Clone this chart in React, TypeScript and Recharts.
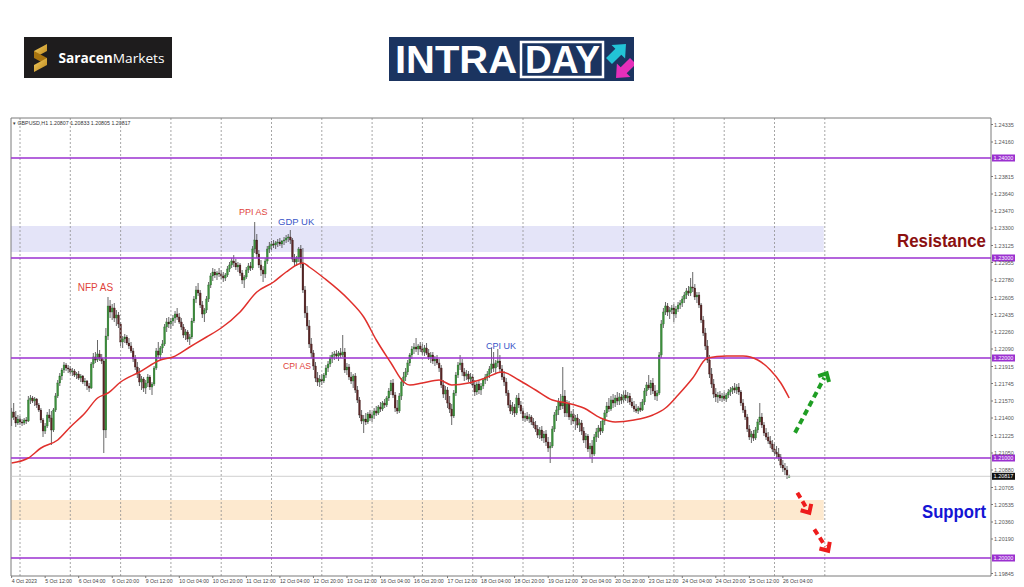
import React from 'react';
import { ComposedChart, Bar, Line, XAxis, YAxis, ReferenceLine, ReferenceArea } from 'recharts';

const PRICE_BASE = 1.2;
const PIP = 0.0001;

// H1 bars, [open, high, low, close] in pips above 1.20000
const oct04 = [[140,150,132,146],[146,155,138,141],[141,147,131,135],[135,143,133,139]];
const oct05 = [[139,142,133,136],[136,139,132,135],[135,140,133,138],[138,141,134,137],[137,162,136,158],[158,163,154,160],[160,162,155,157],[157,161,152,159],[159,160,150,153],[153,155,146,148],[148,150,135,138],[138,140,121,127],[127,135,124,132],[132,146,130,143],[143,149,136,140],[140,147,113,128],[128,150,126,148],[148,165,146,162],[162,178,160,175],[175,185,172,182],[182,190,178,188],[188,196,185,193],[193,195,187,190],[190,193,185,189]];
const oct06 = [[189,192,184,186],[186,190,182,187],[187,189,181,183],[183,186,179,184],[184,187,178,180],[180,184,176,182],[182,183,174,176],[176,180,172,177],[177,178,168,172],[172,175,166,170],[170,196,169,194],[194,205,190,201],[201,206,195,198],[198,218,196,204],[204,208,197,200],[200,204,194,197],[197,199,105,128],[128,230,120,222],[222,261,218,252],[252,258,240,246],[246,254,238,250],[250,255,236,240],[240,248,232,243],[243,246,230,234]];
const oct09 = [[234,236,212,216],[216,222,210,219],[219,224,215,221],[221,223,213,215],[215,220,209,212],[212,216,205,207],[207,210,196,199],[199,203,188,191],[191,196,180,184],[184,190,172,176],[176,182,168,179],[179,181,166,170],[170,178,164,175],[175,184,171,181],[181,183,168,171],[171,176,163,174],[174,192,172,190],[190,210,188,207],[207,216,200,203],[203,212,198,210],[210,218,205,214],[214,234,212,231],[231,240,226,236],[236,241,230,234]];
const oct10 = [[234,240,229,237],[237,243,232,240],[240,247,235,244],[244,250,238,241],[241,245,234,236],[236,240,228,231],[231,234,220,223],[223,229,218,226],[226,228,216,219],[219,224,213,221],[221,240,219,237],[237,262,235,259],[259,272,255,268],[268,275,262,265],[265,268,250,253],[253,257,240,244],[244,250,236,248],[248,262,245,259],[259,276,256,273],[273,285,270,282],[282,290,277,286],[286,289,280,283],[283,287,278,285],[285,290,281,284]];
const oct11 = [[284,288,279,282],[282,286,276,280],[280,285,277,283],[283,292,281,289],[289,296,286,293],[293,300,290,297],[297,303,291,295],[295,299,288,291],[291,296,286,293],[293,295,282,285],[285,288,274,278],[278,283,270,281],[281,291,279,288],[288,295,285,292],[292,296,287,290],[290,312,288,309],[309,336,305,318],[318,324,300,304],[304,308,290,293],[293,298,282,288],[288,292,276,284],[284,300,280,297],[297,312,294,309],[309,316,305,312]];
const oct12 = [[312,317,308,314],[314,318,310,313],[313,317,309,315],[315,319,311,316],[316,320,312,314],[314,318,310,317],[317,321,313,318],[318,323,315,320],[320,324,316,321],[321,328,314,318],[318,320,296,299],[299,304,292,296],[296,302,292,300],[300,311,296,309],[309,313,290,294],[294,310,265,268],[268,272,240,245],[245,252,228,232],[232,238,210,214],[214,220,200,205],[205,208,188,192],[192,196,176,180],[180,186,172,176],[176,183,171,179]];
const oct13 = [[179,184,173,177],[177,185,175,183],[183,193,180,190],[190,197,186,194],[194,203,191,200],[200,206,195,203],[203,207,198,204],[204,208,199,202],[202,207,197,205],[205,210,200,203],[203,223,201,206],[206,210,185,188],[188,195,183,191],[191,194,178,181],[181,186,174,177],[177,184,170,182],[182,185,165,168],[168,172,155,158],[158,161,140,143],[143,148,134,137],[137,143,125,139],[139,145,133,136],[136,146,134,144],[144,148,137,140]];
const oct16 = [[140,146,136,143],[143,150,139,147],[147,152,142,145],[145,153,143,151],[151,156,146,149],[149,157,147,155],[155,159,150,153],[153,162,151,160],[160,170,157,167],[167,178,163,175],[175,179,160,163],[163,166,146,150],[150,158,144,147],[147,165,145,162],[162,180,158,176],[176,186,172,181],[181,190,177,186],[186,198,183,195],[195,205,192,203],[203,212,199,209],[209,215,204,211],[211,220,206,209],[209,214,203,212],[212,216,206,209]];
const oct17 = [[209,214,203,206],[206,213,202,210],[210,215,203,205],[205,209,198,201],[201,206,195,203],[203,206,194,197],[197,202,192,199],[199,203,193,195],[195,199,186,190],[190,193,170,173],[173,178,160,164],[164,172,158,168],[168,171,150,155],[155,162,145,149],[149,154,133,142],[142,168,140,165],[165,186,162,183],[183,196,180,193],[193,203,188,195],[195,199,182,186],[186,190,177,182],[182,188,178,184],[184,187,176,179],[179,185,174,181]];
const oct18 = [[181,184,170,173],[173,178,162,166],[166,176,163,174],[174,177,164,168],[168,175,163,172],[172,180,169,178],[178,184,174,181],[181,187,177,184],[184,192,180,189],[189,210,185,194],[194,206,186,190],[190,198,184,195],[195,209,191,197],[197,203,186,189],[189,193,178,181],[181,187,172,176],[176,180,162,165],[165,168,150,153],[153,158,144,147],[147,156,143,151],[151,154,141,145],[145,163,143,160],[160,165,150,153],[153,157,144,147]];
const oct19 = [[147,150,137,140],[140,145,136,142],[142,146,137,139],[139,144,135,141],[141,143,133,136],[136,140,130,133],[133,137,126,129],[129,133,120,123],[123,131,119,128],[128,132,117,120],[120,127,115,124],[124,128,112,116],[116,121,106,110],[110,116,95,112],[112,132,110,129],[129,146,126,143],[143,152,137,148],[148,160,143,156],[156,164,148,152],[152,191,149,162],[162,168,141,145],[145,158,141,154],[154,157,138,141],[141,147,133,144]];
const oct20 = [[144,149,134,137],[137,143,128,140],[140,144,130,133],[133,139,126,135],[135,138,123,127],[127,131,115,118],[118,125,110,122],[122,124,106,109],[109,115,100,112],[112,118,95,104],[104,124,102,121],[121,130,116,126],[126,133,120,130],[130,137,123,127],[127,140,125,137],[137,148,133,145],[145,156,141,152],[152,160,146,149],[149,162,147,158],[158,164,150,155],[155,163,151,160],[160,166,153,157],[157,165,153,161],[161,164,154,158]];
const oct23 = [[158,167,155,163],[163,168,157,160],[160,166,155,162],[162,165,153,156],[156,160,150,152],[152,157,146,149],[149,154,145,147],[147,152,144,150],[150,156,146,148],[148,159,147,156],[156,170,153,167],[167,176,162,173],[173,183,168,170],[170,178,163,175],[175,180,164,167],[167,173,158,162],[162,168,157,165],[165,206,163,203],[203,238,200,234],[234,250,230,246],[246,256,243,252],[252,255,242,246],[246,251,239,248],[248,253,244,250]];
const oct24 = [[250,254,236,244],[244,252,240,249],[249,256,246,253],[253,258,249,255],[255,262,251,259],[259,266,255,263],[263,270,259,267],[267,272,262,265],[265,280,262,271],[271,286,266,270],[270,274,258,261],[261,266,255,263],[263,266,250,253],[253,255,235,238],[238,242,222,225],[225,230,208,212],[212,218,195,198],[198,203,180,184],[184,190,170,174],[174,179,160,164],[164,170,156,161],[161,166,155,163],[163,167,157,160],[160,165,156,162]];
const oct25 = [[162,166,157,159],[159,165,156,163],[163,169,160,166],[166,171,162,168],[168,172,164,170],[170,175,165,168],[168,174,164,171],[171,175,163,166],[166,168,152,155],[155,159,145,148],[148,152,138,141],[141,144,126,129],[129,133,118,121],[121,127,115,124],[124,128,117,120],[120,131,118,128],[128,139,125,136],[136,155,133,141],[141,145,130,133],[133,136,122,125],[125,130,118,121],[121,126,114,117],[117,122,110,114],[114,118,106,109]];
const oct26 = [[109,114,102,106],[106,112,100,104],[104,110,97,101],[101,104,90,93],[93,98,86,90],[90,95,83,88],[88,92,79,83],[80.7,83.3,80.5,81.7]];

const tradingDays = [oct04, oct05, oct06, oct09, oct10, oct11, oct12, oct13, oct16, oct17, oct18, oct19, oct20, oct23, oct24, oct25, oct26];

// moving average readings: [bar, pips above 1.20000]
const maReadings = [[0,95],[8,100],[14,110],[22,118],[28,131],[35,145],[41,160],[46,165],[52,176],[61,186],[71,198],[77,201],[85,211],[93,221],[100,230],[109,246],[117,266],[125,276],[131,286],[137,294],[139,295],[142,291],[149,280],[161,258],[168,241],[174,218],[181,195],[187,176],[190,173],[196,175],[204,178],[210,173],[218,175],[226,180],[234,186],[242,178],[250,168],[258,158],[265,155],[273,150],[281,140],[288,136],[297,138],[306,143],[312,150],[318,163],[325,180],[332,200],[341,202],[349,202],[356,198],[362,188],[367,175],[371,160]];

const timeLabels = ['4 Oct 2023','5 Oct 12:00','6 Oct 04:00','6 Oct 20:00','9 Oct 12:00','10 Oct 04:00','10 Oct 20:00','11 Oct 12:00','12 Oct 04:00','12 Oct 20:00','13 Oct 12:00','16 Oct 04:00','16 Oct 20:00','17 Oct 12:00','18 Oct 04:00','18 Oct 20:00','19 Oct 12:00','20 Oct 04:00','20 Oct 20:00','23 Oct 12:00','24 Oct 04:00','24 Oct 20:00','25 Oct 12:00','26 Oct 04:00'];
const timeLabelBars = [0,16,32,48,64,80,96,112,128,144,160,176,192,208,224,240,256,272,288,304,320,336,352,368];
const dayStartBars = [4,28,52,76,100,124,148,172,196,220,244,268,292,316,340,364,388];

const priceTicks = [1.24335,1.2416,1.23815,1.2364,1.2347,1.233,1.23125,1.22955,1.2278,1.22605,1.22435,1.2226,1.2209,1.21915,1.21745,1.2157,1.214,1.21225,1.2105,1.2088,1.20705,1.20535,1.2036,1.2019,1.19845];
const levelPrices = [1.24, 1.23, 1.22, 1.21, 1.2];
const lastPrice = 1.20817;
const resistanceZone = [1.2306, 1.2332];
const supportZone = [1.2038, 1.2058];
const zoneEndBar = 387.5;

const bullishPath = [{ x: 373.8, y: 1.21253 }, { x: 388.9, y: 1.21847 }];
const bearishPathA = [{ x: 374.9, y: 1.20653 }, { x: 380.6, y: 1.20453 }];
const bearishPathB = [{ x: 383.0, y: 1.20287 }, { x: 389.6, y: 1.20073 }];

const bars = tradingDays.flat();
const maByBar = new Map(maReadings.map(([b, v]) => [b, v]));
const rows = bars.map((b, i) => ({
  i,
  o: PRICE_BASE + b[0] * PIP,
  h: PRICE_BASE + b[1] * PIP,
  l: PRICE_BASE + b[2] * PIP,
  c: PRICE_BASE + b[3] * PIP,
  ma: maByBar.has(i) ? PRICE_BASE + (maByBar.get(i) as number) * PIP : null,
}));

const FONT = 'Liberation Sans, Arial, sans-serif';
const PURPLE = '#9b30d0';

const Candle = (props: any) => {
  const { x, y, width, height, payload } = props;
  if (x == null || y == null || !payload) return null;
  const cx = x + width / 2;
  const top = Math.min(y, y + height);
  const span = Math.abs(height);
  const { o, h, l, c } = payload;
  const range = h - l;
  const toY = (v: number) => (range > 0 ? top + ((h - v) / range) * span : top);
  const yo = toY(o);
  const yc = toY(c);
  const up = c >= o;
  const bt = Math.min(yo, yc);
  const bh = Math.max(Math.abs(yc - yo), 0.8);
  return (
    <g>
      <line x1={cx} x2={cx} y1={top} y2={top + span} stroke="#404040" strokeWidth={0.8} />
      <rect x={cx - 0.9} y={bt} width={1.8} height={bh} fill={up ? '#3b8f3b' : '#5a2626'} stroke={up ? '#2a6a2a' : '#3a1a1a'} strokeWidth={0.3} />
    </g>
  );
};

const XTick = (props: any) => {
  const { x, y, payload } = props;
  const k = timeLabelBars.indexOf(payload.value);
  return (
    <text x={x} y={y + 2.5} fontSize={5.2} fill="#444" fontFamily={FONT}>
      {k >= 0 ? timeLabels[k] : ''}
    </text>
  );
};

const YTick = (props: any) => {
  const { x, y, payload } = props;
  return (
    <text x={x + 1} y={y + 2} fontSize={5.5} fill="#555" fontFamily={FONT}>
      {Number(payload.value).toFixed(5)}
    </text>
  );
};

const PriceTag = (props: any) => {
  const { viewBox, text, bg } = props;
  if (!viewBox) return null;
  const x = viewBox.x + viewBox.width + 1;
  const y = viewBox.y;
  return (
    <g>
      <rect x={x} y={y - 3.5} width={23} height={7} fill={bg} />
      <text x={x + 11.5} y={y + 2} textAnchor="middle" fontSize={5.5} fill="#fff" fontFamily={FONT}>
        {text}
      </text>
    </g>
  );
};

const makeArrow = (color: string) => (p: any) => {
  const { x1, y1, x2, y2 } = p;
  if ([x1, y1, x2, y2].some((v) => v == null || Number.isNaN(v))) return <g />;
  const dx = x2 - x1;
  const dy = y2 - y1;
  const len = Math.hypot(dx, dy) || 1;
  const ux = dx / len;
  const uy = dy / len;
  const head = 9;
  const ang = Math.PI * 0.24;
  const arm = (a: number) => [
    x2 - head * (ux * Math.cos(a) - uy * Math.sin(a)),
    y2 - head * (uy * Math.cos(a) + ux * Math.sin(a)),
  ];
  const [ax, ay] = arm(ang);
  const [bx, by] = arm(-ang);
  return (
    <g>
      <line x1={x1} y1={y1} x2={x2 - ux * 5} y2={y2 - uy * 5} stroke={color} strokeWidth={4} strokeDasharray="6 4" />
      <polyline points={`${ax},${ay} ${x2},${y2} ${bx},${by}`} fill="none" stroke={color} strokeWidth={4} strokeLinejoin="miter" />
    </g>
  );
};

const SaracenLogo = () => (
  <div style={{ position: 'absolute', left: 24, top: 37, width: 148, height: 41, background: '#1e1c1d' }}>
    <svg width={148} height={41}>
      <defs>
        <linearGradient id="gold" x1="0" y1="0" x2="1" y2="1">
          <stop offset="0" stopColor="#f6cf63" />
          <stop offset="1" stopColor="#b98418" />
        </linearGradient>
      </defs>
      <polygon points="10,14 23,7 23,14 10,21" fill="url(#gold)" />
      <polygon points="10,14 23,21 23,28 10,21" fill="#a8740f" />
      <polygon points="10,28 23,21 23,28 10,35" fill="url(#gold)" />
      <text x={34.5} y={26} fontSize={13.5} fill="#fff" fontFamily="'Open Sans', 'Noto Sans', sans-serif" textLength={106} lengthAdjust="spacingAndGlyphs">
        <tspan fontWeight={700}>Saracen</tspan>
        <tspan fontWeight={400}>Markets</tspan>
      </text>
    </svg>
  </div>
);

const IntradayLogo = () => (
  <div style={{ position: 'absolute', left: 389, top: 37, width: 245, height: 44, background: '#1b3460' }}>
    <svg width={245} height={44}>
      <text x={6} y={36} fontSize={39} fontWeight={700} fill="#fff" fontFamily={FONT} textLength={122} lengthAdjust="spacingAndGlyphs">
        INTRA
      </text>
      <rect x={132} y={5} width={82} height={35} fill="none" stroke="#fff" strokeWidth={2.5} />
      <text x={136} y={36} fontSize={39} fontWeight={700} fill="#fff" fontFamily={FONT} textLength={75} lengthAdjust="spacingAndGlyphs">
        DAY
      </text>
      <polygon points="0,-3.5 11,-3.5 11,-8 20,0 11,8 11,3.5 0,3.5" fill="#22c3d6" transform="translate(220,24) rotate(-45) scale(1.2)" />
      <polygon points="0,-3.5 11,-3.5 11,-8 20,0 11,8 11,3.5 0,3.5" fill="#e52fba" transform="translate(244,24) rotate(135) scale(1.2)" />
    </svg>
  </div>
);

const Annotations = () => (
  <svg width={1024} height={587} style={{ position: 'absolute', left: 0, top: 0, pointerEvents: 'none' }}>
    <text x={13} y={124.5} fontSize={5.3} fill="#333" fontFamily={FONT}>
      ▾ GBPUSD,H1  1.20807 1.20833 1.20805 1.20817
    </text>
    <text x={77.7} y={290.5} fontSize={10} fill="#e0433b" fontFamily={FONT}>NFP AS</text>
    <text x={239} y={215} fontSize={9} fill="#e0433b" fontFamily={FONT}>PPI AS</text>
    <text x={278} y={225} fontSize={9.5} fill="#3a55c8" fontFamily={FONT}>GDP UK</text>
    <text x={283} y={368.5} fontSize={8.7} fill="#e0433b" fontFamily={FONT}>CPI AS</text>
    <text x={486} y={348.5} fontSize={9} fill="#3a55c8" fontFamily={FONT}>CPI UK</text>
    <text x={897} y={247} fontSize={18} fontWeight={700} fill="#8b1010" fontFamily={FONT} textLength={89} lengthAdjust="spacingAndGlyphs">
      Resistance
    </text>
    <text x={922} y={518} fontSize={18} fontWeight={700} fill="#1414d4" fontFamily={FONT} textLength={64} lengthAdjust="spacingAndGlyphs">
      Support
    </text>
  </svg>
);

export default function App() {
  return (
    <div style={{ position: 'absolute', left: 0, top: 0, width: 1024, height: 587, background: '#fff', overflow: 'hidden' }}>
      <ComposedChart
        width={1024}
        height={587}
        data={rows}
        margin={{ top: 118, right: 0, bottom: 0, left: 11 }}
        style={{ position: 'absolute', left: 0, top: 0 }}
      >
        <XAxis
          dataKey="i"
          type="number"
          domain={[-0.3, 467.3]}
          allowDataOverflow
          ticks={timeLabelBars}
          interval={0}
          height={11}
          tick={<XTick />}
          tickSize={2}
          tickLine={{ stroke: '#777' }}
          axisLine={{ stroke: '#7a7a7a' }}
        />
        <YAxis
          orientation="right"
          type="number"
          domain={[1.1982, 1.244]}
          allowDataOverflow
          ticks={priceTicks}
          interval={0}
          width={33}
          tick={<YTick />}
          tickSize={2}
          tickMargin={0}
          tickLine={{ stroke: '#777' }}
          axisLine={{ stroke: '#7a7a7a' }}
        />
        <ReferenceArea x1={-0.3} x2={zoneEndBar} y1={resistanceZone[0]} y2={resistanceZone[1]} fill="#e4e4f8" fillOpacity={1} stroke="none" />
        <ReferenceArea x1={-0.3} x2={zoneEndBar} y1={supportZone[0]} y2={supportZone[1]} fill="#fde9cf" fillOpacity={1} stroke="none" />
        {dayStartBars.map((d) => (
          <ReferenceLine key={`d${d}`} x={d} stroke="#8f8f8f" strokeDasharray="2 2" strokeWidth={0.8} />
        ))}
        <ReferenceLine y={1.244} stroke="#7a7a7a" />
        <ReferenceLine x={-0.3} stroke="#7a7a7a" />
        <ReferenceLine y={lastPrice} stroke="#c4c4c4" strokeWidth={0.8} label={<PriceTag text={lastPrice.toFixed(5)} bg="#111" />} />
        {levelPrices.map((lv) => (
          <ReferenceLine key={`lv${lv}`} y={lv} stroke={PURPLE} strokeWidth={1.5} label={<PriceTag text={lv.toFixed(5)} bg={PURPLE} />} />
        ))}
        <Bar dataKey={(d: any) => [d.l, d.h]} shape={Candle} barSize={2} isAnimationActive={false} />
        <Line dataKey="ma" type="monotone" stroke="#e0302c" strokeWidth={1.5} dot={false} activeDot={false} connectNulls isAnimationActive={false} />
        <ReferenceLine segment={bullishPath} shape={makeArrow('#1f9e24')} />
        <ReferenceLine segment={bearishPathA} shape={makeArrow('#ee1c1c')} />
        <ReferenceLine segment={bearishPathB} shape={makeArrow('#ee1c1c')} />
      </ComposedChart>
      <Annotations />
      <SaracenLogo />
      <IntradayLogo />
    </div>
  );
}
